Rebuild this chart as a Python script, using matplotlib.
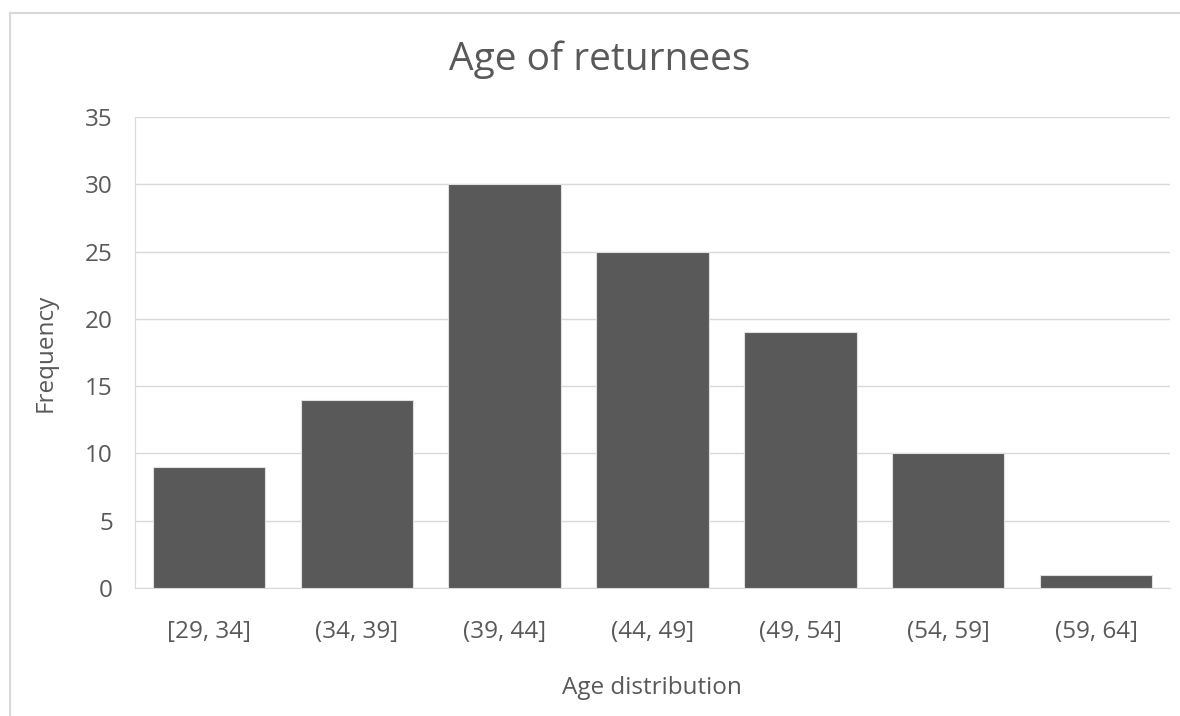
import matplotlib

matplotlib.use("Agg")
from matplotlib import pyplot as plt
from matplotlib.lines import Line2D

categories = ["[29, 34]", "(34, 39]", "(39, 44]", "(44, 49]", "(49, 54]", "(54, 59]", "(59, 64]"]
frequencies = [9, 14, 30, 25, 19, 10, 1]
y_ticks = [0, 5, 10, 15, 20, 25, 30, 35]

text_color = "#595959"
grid_color = "#d9d9d9"
bar_color = "#595959"

plt.rcParams["font.family"] = ["Open Sans", "DejaVu Sans"]

fig = plt.figure(figsize=(11.8, 7.16), dpi=100)
fig.patch.set_facecolor("white")

# chart area frame (only left and top edges visible in the crop)
fx0, fy1 = 10 / 1180, 1 - 13 / 716
fig.add_artist(Line2D([fx0, 1.0], [fy1, fy1], transform=fig.transFigure, color="#d9d9d9", linewidth=1.5))
fig.add_artist(Line2D([fx0, fx0], [0.0, fy1], transform=fig.transFigure, color="#d9d9d9", linewidth=1.5))

ax = fig.add_axes([135 / 1180, 1 - 588 / 716, (1170 - 135) / 1180, (588 - 117) / 716])
positions = list(range(len(categories)))
ax.bar(positions, frequencies, width=0.76, color=bar_color, edgecolor="#e0e0e0", linewidth=0.8, zorder=3)

ax.set_xlim(-0.5, len(categories) - 0.5)
ax.set_ylim(0, 35)
ax.set_yticks(y_ticks)
ax.set_xticks(positions)
ax.set_xticklabels(categories)
ax.tick_params(axis="both", length=0, labelsize=17.5, colors=text_color)
ax.tick_params(axis="x", pad=23)
ax.tick_params(axis="y", pad=16)
ax.grid(axis="y", color=grid_color, linewidth=1.0, zorder=0)
ax.grid(axis="x", visible=False)
for side in ["top", "right"]:
    ax.spines[side].set_visible(False)
ax.spines["left"].set_color(grid_color)
ax.spines["bottom"].set_color(grid_color)

fig.text(600 / 1180, 1 - 60 / 716, "Age of returnees", ha="center", va="center", fontsize=28, color=text_color)
fig.text(652 / 1180, 1 - 688 / 716, "Age distribution", ha="center", va="center", fontsize=17.5, color=text_color)
fig.text(46 / 1180, 1 - 353 / 716, "Frequency", ha="center", va="center", rotation="vertical", fontsize=17.5, color=text_color)

fig.savefig("out.png", dpi=100)
